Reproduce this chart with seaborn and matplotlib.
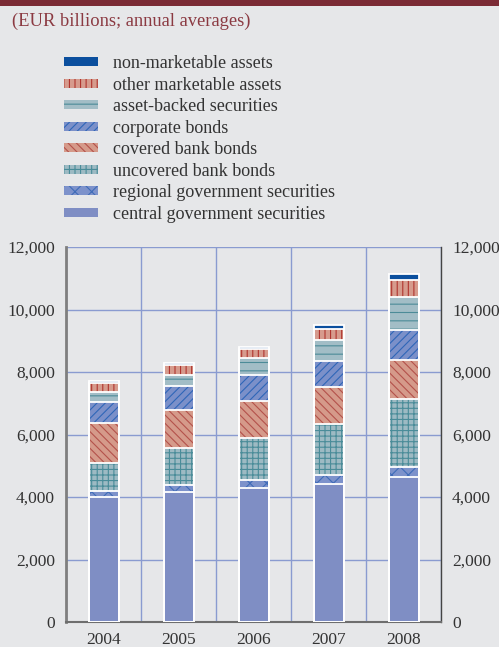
import matplotlib
matplotlib.use("Agg")
import matplotlib.pyplot as plt
import seaborn as sns
import pandas as pd
from matplotlib.patches import Patch, Rectangle
from matplotlib.ticker import FuncFormatter, FixedLocator

# ---- data (EUR billions) ----
years = ["2004", "2005", "2006", "2007", "2008"]
central = [3990, 4150, 4280, 4420, 4640]
regional = [200, 230, 255, 290, 320]
uncovered = [910, 1180, 1365, 1630, 2190]
covered = [1260, 1230, 1185, 1180, 1240]
corporate = [680, 750, 830, 830, 950]
asset_backed = [330, 370, 520, 690, 1045]
other_mkt = [290, 310, 300, 330, 565]
non_mkt = [65, 75, 65, 130, 190]

series_names = ["central government securities", "regional government securities",
                "uncovered bank bonds", "covered bank bonds", "corporate bonds",
                "asset-backed securities", "other marketable assets", "non-marketable assets"]
series_values = [central, regional, uncovered, covered, corporate,
                 asset_backed, other_mkt, non_mkt]

fills = ["#7F8EC4", "#7D92CB", "#9DBAC3", "#D59A8A", "#7B90C9", "#A2BDC6", "#D69B8D", "#0B4F9E"]
hatch_cols = ["#7F8EC4", "#3F6CB8", "#4A8C99", "#B4524B", "#2F66B8", "#4C8B98", "#B0352F", "#0B4F9E"]
hatches = [None, "xx", "+++", "\\\\\\\\", "////", "--", "|||", None]

BG = "#E6E7E9"
GRID = "#8A9BD0"
TXT = "#333333"

sns.set_style("white")
plt.rcParams["font.family"] = ["Liberation Serif", "DejaVu Serif"]
plt.rcParams["hatch.linewidth"] = 0.8

df = pd.DataFrame({"year": years})
for n, v in zip(series_names, series_values):
    df[n] = v
cum = df[series_names].cumsum(axis=1)

fig = plt.figure(figsize=(4.99, 6.47), dpi=100, facecolor=BG)
ax = fig.add_axes([66 / 499, 1 - 622 / 647, 375 / 499, 375 / 647])
ax.set_facecolor(BG)
ax.set_axisbelow(True)

# stacked bars: draw cumulative totals from the top layer down
for i in reversed(range(len(series_names))):
    n0 = len(ax.patches)
    sns.barplot(x=df["year"], y=cum[series_names[i]], color=fills[i], saturation=1,
                width=0.4, ax=ax, zorder=3)
    for p in ax.patches[n0:]:
        p.set_facecolor(fills[i])
        p.set_edgecolor(hatch_cols[i])
        p.set_linewidth(0)
        if hatches[i]:
            p.set_hatch(hatches[i])
# white separators / outlines
for i in range(len(series_names)):
    n0 = len(ax.patches)
    sns.barplot(x=df["year"], y=cum[series_names[i]], color="white", fill=False,
                width=0.4, ax=ax, zorder=4)
    for p in ax.patches[n0:]:
        p.set_facecolor("none")
        p.set_edgecolor("white")
        p.set_linewidth(1.3)

ax.set_xlim(-0.5, 4.5)
ax.set_ylim(0, 12000)
ax.set_xlabel("")
ax.set_ylabel("")
ax.yaxis.set_major_locator(FixedLocator(range(0, 12001, 2000)))
ax.yaxis.set_major_formatter(FuncFormatter(lambda v, p: f"{int(v):,}"))
ax.xaxis.set_minor_locator(FixedLocator([-0.5, 0.5, 1.5, 2.5, 3.5, 4.5]))

ax.grid(axis="y", which="major", color=GRID, linewidth=1)
ax.grid(axis="x", which="minor", color=GRID, linewidth=1)
ax.grid(axis="x", which="major", visible=False)

ax.tick_params(axis="y", which="both", length=0, labelsize=12.5, labelcolor=TXT,
               labelright=True, right=False, pad=8)
ax.tick_params(axis="x", which="major", length=0, labelsize=12.5, labelcolor=TXT, pad=7)
ax.tick_params(axis="x", which="minor", length=4, width=1, color="#555555", direction="out")

ax.spines["top"].set_visible(False)
ax.spines["left"].set_color("#7F7F7F")
ax.spines["left"].set_linewidth(2)
ax.spines["right"].set_color("#444444")
ax.spines["right"].set_linewidth(1)
ax.spines["bottom"].set_color("#6E6E6E")
ax.spines["bottom"].set_linewidth(1.5)

# legend
handles = []
for i in reversed(range(len(series_names))):
    handles.append(Patch(facecolor=fills[i], edgecolor=hatch_cols[i], hatch=hatches[i],
                         linewidth=0, label=series_names[i]))
fig.legend(handles=handles, loc="upper left", bbox_to_anchor=(64 / 499, 1 - 55 / 647),
           frameon=False, fontsize=13, handlelength=1.88, handleheight=0.39,
           handletextpad=0.83, labelspacing=0.25, borderpad=0, borderaxespad=0,
           labelcolor=TXT)

# header
fig.add_artist(Rectangle((0, 1 - 6 / 647), 1, 6 / 647, transform=fig.transFigure,
                         facecolor="#7B2B35", edgecolor="none"))
fig.text(12 / 499, 1 - 21 / 647, "(EUR billions; annual averages)", fontsize=13.3,
         color="#8B3A42", va="center", ha="left")

fig.savefig("out.png", dpi=100, facecolor=BG)
